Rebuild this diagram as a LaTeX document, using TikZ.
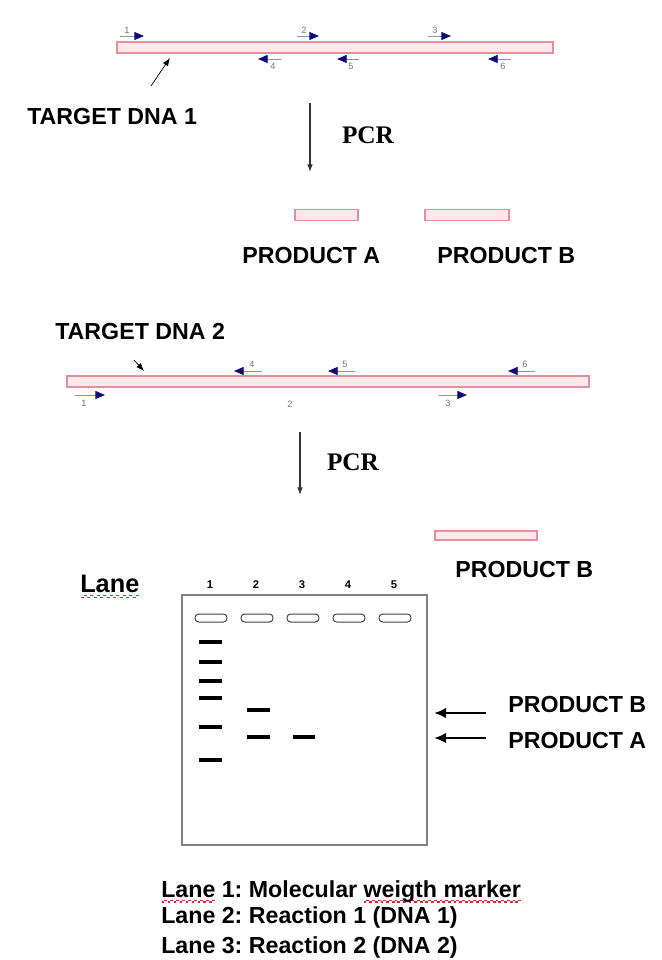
\documentclass[tikz,border=0pt]{standalone}
\usepackage{fontspec}
\setmainfont{Liberation Sans}
\newfontfamily\pcrfont{Liberation Serif}
\usetikzlibrary{arrows.meta,positioning,calc}
\definecolor{dnaedge}{HTML}{E3909A}
\definecolor{dnafill}{HTML}{FDE9EB}
\definecolor{navy}{HTML}{0C0C7A}
\definecolor{primerblue}{HTML}{8890C0}
\definecolor{gelgray}{HTML}{808080}
\definecolor{spellred}{HTML}{E0282C}
\newlength\wavewd
\newcommand\wavy[1]{\settowidth\wavewd{#1}\rlap{\color{spellred}\hbox to\wavewd{\xleaders\hbox{\rule[-.25em]{.12em}{.06em}\rule[-.17em]{.12em}{.06em}}\hfill}}#1}
\frenchspacing

\begin{document}
\frenchspacing
\begin{tikzpicture}[x=.25mm,y=-.25mm,>=Latex,
  dnabar/.style={draw=dnaedge,fill=dnafill,line width=.9pt,inner sep=0,minimum height=2.7mm},
  primer/.style={primerblue,line width=.5pt,-{Triangle[length=2.4mm,width=2mm,color=navy]}},
  plabel/.style={font=\fontsize{6.5}{6.5}\selectfont,text=black!55,inner sep=0},
  partname/.style={font=\bfseries\fontsize{16.5}{18}\selectfont,inner sep=0,anchor=west},
  pcrtext/.style={font=\pcrfont\bfseries\fontsize{18}{18}\selectfont,inner sep=0},
  pcrarrow/.style={black!80,line width=.8pt,-{Latex[length=1.9mm,width=1.4mm]}},
  pointer/.style={black,line width=.5pt,-{Latex[length=2mm,width=1.5mm]}},
  well/.style={draw=black!75,line width=.7pt,rounded corners=.9mm,minimum width=8mm,minimum height=2mm,inner sep=0},
  band/.style={line width=2.5pt},
  gelarrow/.style={line width=1.6pt,-{Latex[length=3mm,width=2.6mm]}}]
\useasboundingbox (0,0) rectangle (662,960);
\node[dnabar,minimum width=109mm] (dna1) at (335,47.5) {};
\foreach \n/\a/\b in {1/120/144,2/297/319,3/428/451}{\coordinate (fa\n) at (\a,36);\coordinate (fb\n) at (\b,36);\draw[primer] (fa\n)--(fb\n);\node[plabel] (fl\n) at (\a+7,30) {\n};}
\foreach \n/\a/\b in {4/258/281,5/337/359,6/488/511}{\coordinate (ra\n) at (\b,59);\coordinate (rb\n) at (\a,59);\draw[primer] (ra\n)--(rb\n);\node[plabel] (rl\n) at (\b-8,66) {\n};}
\node[partname] (tgt1) at (27,117) {TARGET DNA 1};
\coordinate (t1a) at (151,86);\coordinate (t1b) at (170,58);\draw[pointer] (t1a)--(t1b);
\coordinate (pcr1a) at (310,103);\coordinate (pcr1b) at (310,172);\draw[pcrarrow] (pcr1a)--(pcr1b);
\node[pcrtext] (pcr1) at (368,135) {PCR};
\node[dnabar,minimum width=15.75mm] (prodA) at (326.5,215) {};
\node[dnabar,minimum width=21mm] (prodB) at (467,215) {};
\node[partname] (labA) at (242,256) {PRODUCT A};\node[partname] (labB) at (437,256) {PRODUCT B};
\node[partname] (tgt2) at (55,332) {TARGET DNA 2};
\coordinate (t2a) at (134,360);\coordinate (t2b) at (144,371);\draw[pointer] (t2a)--(t2b);
\node[dnabar,minimum width=130.5mm] (dna2) at (328,381.5) {};
\foreach \n/\a/\b in {4/234/262,5/328/355,6/508/535}{\coordinate (sa\n) at (\b,371);\coordinate (sb\n) at (\a,371);\draw[primer] (sa\n)--(sb\n);\node[plabel] (sl\n) at (\b-10,364) {\n};}
\foreach \n/\a/\b in {1/75/105,3/439/467}{\coordinate (ga\n) at (\a,395);\coordinate (gb\n) at (\b,395);\draw[primer] (ga\n)--(gb\n);\node[plabel] (gl\n) at (\a+9,403) {\n};}
\node[plabel] (gl2) at (290,404) {2};
\coordinate (pcr2a) at (300,432);\coordinate (pcr2b) at (300,495);\draw[pcrarrow] (pcr2a)--(pcr2b);
\node[pcrtext] (pcr2) at (353,462) {PCR};
\node[dnabar,minimum width=25.5mm,minimum height=2.3mm] (prodB2) at (486,535.5) {};
\node[partname] (labB2) at (455,570) {PRODUCT B};
\node[font=\bfseries\fontsize{18}{18}\selectfont,inner sep=0,anchor=base west] (lane) at (80,592) {\wavy{Lane}};
\node[draw=gelgray,line width=1.2pt,minimum width=61.25mm,minimum height=62.5mm,inner sep=0] (gel) at (304.5,720) {};
\foreach \i/\xc in {1/211,2/257,3/303,4/349,5/395}{\node[font=\bfseries\fontsize{8}{8}\selectfont,inner sep=0] (n\i) at (\xc-1,585) {\i};\node[well] (w\i) at (\xc,618) {};}
\foreach \y in {642,662,681,698,727,760}{\draw[band] (199,\y)--(222,\y);}
\foreach \y in {710,737}{\draw[band] (247,\y)--(270,\y);}
\draw[band] (293,737)--(315,737);
\node[partname] (gelB) at (508,705) {PRODUCT B};\node[partname] (gelA) at (508,741) {PRODUCT A};
\coordinate (bB) at (486,713);\coordinate (hB) at (434,713);\draw[gelarrow] (bB)--(hB);
\coordinate (bA) at (486,738);\coordinate (hA) at (434,738);\draw[gelarrow] (bA)--(hA);
\node[partname,anchor=base west] (leg1) at (161,897) {\wavy{Lane} 1: Molecular \wavy{weigth marker}};
\node[partname,anchor=base west] (leg2) at (161,923) {Lane 2: Reaction 1 (DNA 1)};
\node[partname,anchor=base west] (leg3) at (161,953) {Lane 3: Reaction 2 (DNA 2)};
\end{tikzpicture}
\end{document}
